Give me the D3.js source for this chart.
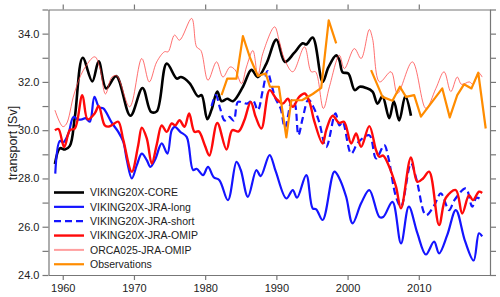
<!DOCTYPE html>
<html>
<head>
<meta charset="utf-8">
<script src="https://cdn.jsdelivr.net/npm/d3@7"></script>
<style>
  body { margin: 0; background: #fff; }
  text { font-family: "Liberation Sans", Arial, sans-serif; fill: #222; }
</style>
</head>
<body>
<svg id="chart" width="500" height="297"></svg>
<script>
// tick values
var xTicks = [1960, 1970, 1980, 1990, 2000, 2010];
var yTicks = [24, 25, 26, 27, 28, 29, 30, 31, 32, 33, 34, 35];

// series, [year, transport in Sv]
var core = [[1958.9,28.6],[1959.6,29.25],[1960.3,29.2],[1961.0,29.35],[1961.7,30.55],[1962.8,33.0],[1964.15,32.02],
  [1965.05,32.85],[1966.1,31.73],[1967.5,32.24],[1969.5,30.6],[1971.2,31.75],[1972.4,30.76],[1973.2,30.78],
  [1974.6,32.76],[1976.0,32.14],[1976.6,32.2],[1977.8,31.95],[1979.0,31.4],[1979.5,31.45],[1980.3,30.45],
  [1980.9,30.85],[1981.7,31.6],[1982.3,31.2],[1983.1,31.3],[1983.9,31.2],[1985.3,31.8],[1986.5,32.5],
  [1987.4,32.2],[1988.6,32.76],[1990.0,33.75],[1991.2,32.83],[1992.5,33.2],[1993.7,33.6],[1994.2,33.55],
  [1995.1,33.84],[1996.5,32.0],[1997.3,32.6],[1998.4,33.1],[1998.85,32.9],[1999.3,32.4],[2000.1,32.35],
  [2001.0,31.66],[2001.7,31.8],[2002.6,31.75],[2003.5,31.6],[2004.2,31.1],[2004.9,31.4],[2005.85,30.5],
  [2006.5,31.2],[2007.25,30.4],[2008.1,31.4],[2008.9,30.6]];

var jraLong = [[1958.95,28.2],[1959.6,29.55],[1960.1,29.5],[1960.8,29.86],[1961.5,30.55],[1962.1,30.45],
  [1962.7,30.45],[1963.2,30.5],[1963.8,30.35],[1964.45,31.38],[1965.1,30.95],[1965.7,30.9],[1966.9,30.3],
  [1967.8,29.93],[1968.5,29.52],[1969.0,28.76],[1969.7,28.0],[1970.4,28.55],[1971.1,29.03],[1971.8,28.76],
  [1972.3,28.48],[1973.0,28.8],[1973.9,29.45],[1974.7,29.03],[1975.3,30.0],[1975.75,30.14],[1976.5,29.93],
  [1977.4,29.72],[1978.3,28.35],[1978.8,28.4],[1979.7,28.14],[1980.4,28.48],[1981.2,28.05],[1982.0,27.93],
  [1983.2,27.1],[1984.4,28.69],[1985.0,28.35],[1986.0,27.24],[1987.2,28.35],[1987.8,28.1],[1989.05,28.97],
  [1989.9,28.3],[1991.4,27.17],[1992.3,27.52],[1992.9,27.2],[1994.2,28.14],[1995.1,26.76],[1995.6,26.72],
  [1996.5,26.28],[1998.15,28.28],[1998.85,28.0],[1999.8,27.24],[2000.7,26.14],[2001.9,26.97],[2003.05,27.52],
  [2004.45,26.41],[2005.0,26.4],[2006.3,27.03],[2007.5,25.31],[2008.6,26.83],[2009.8,25.73],[2011.0,24.85],
  [2012.15,25.38],[2012.85,24.9],[2014.0,25.66],[2015.2,26.69],[2016.5,25.4],[2017.7,24.6],[2018.45,25.73],
  [2018.9,25.6]];

var jraShort = [[1980.9,31.0],[1981.5,31.45],[1982.1,30.9],[1982.75,30.4],[1983.4,30.55],[1984.0,30.4],
  [1984.6,31.17],[1985.2,31.15],[1985.9,31.1],[1986.7,31.24],[1987.4,30.83],[1988.1,31.66],[1988.75,32.45],
  [1989.3,31.9],[1989.9,31.3],[1990.6,30.9],[1991.2,30.1],[1992.2,31.25],[1992.6,31.1],[1993.1,29.8],
  [1993.7,30.5],[1994.5,31.27],[1995.3,30.9],[1996.0,30.35],[1997.0,29.3],[1998.3,30.7],[1998.85,30.2],
  [1999.3,30.35],[2000.5,29.03],[2001.5,29.5],[2003.05,29.79],[2004.0,28.83],[2005.15,29.38],[2005.7,28.9],
  [2006.8,27.24],[2007.5,26.83],[2008.9,28.62],[2009.7,27.93],[2011.0,26.48],[2012.1,26.85],[2013.1,27.38],
  [2014.25,26.69],[2015.0,27.1],[2016.6,27.59],[2017.5,26.83],[2018.1,27.2],[2018.9,27.1]];

var jraOmip = [[1958.9,30.0],[1959.4,30.05],[1960.2,29.3],[1961.0,30.0],[1961.7,30.07],[1962.75,31.45],
  [1963.5,30.45],[1964.5,30.7],[1965.05,31.0],[1965.9,30.2],[1966.5,30.15],[1967.1,30.25],[1967.8,30.35],
  [1968.5,29.6],[1969.7,28.28],[1970.6,29.38],[1971.1,30.1],[1971.8,29.66],[1972.5,28.62],[1973.2,29.4],
  [1973.9,30.2],[1974.6,29.93],[1975.3,30.28],[1975.8,30.2],[1976.4,30.41],[1977.1,30.14],[1977.75,30.69],
  [1978.5,29.93],[1979.1,29.95],[1979.95,29.38],[1980.6,28.95],[1981.7,30.3],[1983.0,29.2],[1983.8,30.0],
  [1984.7,29.95],[1985.5,30.41],[1986.4,31.17],[1987.1,30.55],[1987.9,30.07],[1989.05,31.66],[1990.0,31.3],
  [1990.9,31.1],[1991.6,31.3],[1992.3,30.97],[1993.2,31.38],[1994.0,31.52],[1994.65,31.17],[1995.3,30.4],
  [1996.5,29.45],[1997.0,30.0],[1997.9,30.6],[1998.8,30.3],[1999.5,30.35],[2000.5,29.45],[2001.2,29.86],
  [2001.9,29.31],[2003.05,30.17],[2004.0,29.17],[2004.45,28.9],[2005.0,28.95],[2005.85,28.48],[2006.8,27.66],
  [2007.5,26.76],[2008.9,28.87],[2009.8,27.86],[2010.6,28.0],[2011.45,28.28],[2012.85,26.07],[2013.8,27.2],
  [2015.2,27.52],[2016.1,26.55],[2017.05,27.31],[2017.6,27.1],[2018.45,27.45],[2018.9,27.4]];

var orca = [[1958.9,30.83],[1960.0,30.15],[1960.5,30.25],[1961.6,31.5],[1962.9,32.49],[1964.5,33.04],
  [1965.2,32.6],[1966.0,31.5],[1966.9,32.2],[1967.6,32.25],[1969.4,30.97],[1971.1,32.97],[1972.15,32.0],
  [1973.2,32.83],[1974.3,33.25],[1974.8,33.25],[1975.7,33.94],[1976.4,33.73],[1978.1,34.63],[1978.8,33.45],
  [1979.4,33.3],[1980.4,32.07],[1981.6,32.83],[1982.5,32.2],[1983.5,32.62],[1984.2,32.5],[1985.1,31.93],
  [1985.8,32.62],[1986.7,33.3],[1987.4,32.28],[1988.1,33.18],[1989.75,34.28],[1990.4,33.7],[1991.1,32.97],
  [1992.3,32.42],[1993.95,33.45],[1994.9,32.42],[1995.5,32.42],[1996.6,30.9],[1997.45,31.8],[1998.85,33.1],
  [1999.55,32.55],[2000.95,33.38],[2001.9,32.97],[2003.05,34.17],[2003.5,33.8],[2004.5,32.0],[2006.1,32.42],
  [2007.0,31.52],[2009.1,32.83],[2011.0,30.9],[2012.4,31.73],[2013.55,32.42],[2014.5,31.6],[2015.4,32.2],
  [2016.0,31.9],[2017.1,32.0],[2017.6,31.9],[2018.4,32.38],[2018.9,32.2]];

var obsA = [[1982.3,31.45],[1983.1,32.14],[1984.4,32.14],[1985.3,33.9],[1986.3,33.0],[1987.4,32.25],
  [1988.5,32.35],[1989.1,31.8],[1990.35,31.8],[1991.4,29.7],[1992.1,31.24],[1993.6,31.24],[1995.1,31.5],
  [1996.3,31.75],[1997.35,34.55],[1998.4,33.6]];
var obsB = [[2003.3,32.49],[2004.9,31.38],[2006.3,31.22],[2007.35,31.8],[2008.2,31.38],[2009.35,31.45],
  [2010.3,30.56],[2013.3,31.73],[2014.35,30.53],[2015.4,31.45],[2016.35,31.9],[2017.4,31.73],[2018.35,32.38],
  [2019.4,30.07]];

var seriesNames = ["VIKING20X-CORE", "VIKING20X-JRA-long", "VIKING20X-JRA-short",
                   "VIKING20X-JRA-OMIP", "ORCA025-JRA-OMIP", "Observations"];

var svg = d3.select("#chart");

var x = d3.scaleLinear().domain([1958, 2020]).range([48.5, 490]);
var y = d3.scaleLinear().domain([24, 35]).range([275, 9.5]);

var axisColor = "#777";

// axes
var gBottom = svg.append("g").attr("transform", "translate(0,275)")
  .call(d3.axisBottom(x).tickValues(xTicks).tickFormat(d3.format("d")).tickSize(5).tickSizeOuter(0).tickPadding(4));
var gTop = svg.append("g").attr("transform", "translate(0,9.5)")
  .call(d3.axisTop(x).tickValues(xTicks).tickFormat("").tickSize(5).tickSizeOuter(0));
var gLeft = svg.append("g").attr("transform", "translate(48.5,0)")
  .call(d3.axisLeft(y).tickValues(yTicks)
    .tickFormat(function(d) { return d % 2 === 0 ? d3.format(".1f")(d) : ""; })
    .tickSize(6).tickSizeOuter(0).tickPadding(3));
var gRight = svg.append("g").attr("transform", "translate(490,0)")
  .call(d3.axisRight(y).tickValues(yTicks).tickFormat("").tickSize(6).tickSizeOuter(0));

[gBottom, gTop, gLeft, gRight].forEach(function(g) {
  g.selectAll("path, line").attr("stroke", axisColor).attr("stroke-width", 1.2);
  g.selectAll("text").style("font-size", "11px").attr("fill", "#222");
});

svg.append("text")
  .attr("transform", "translate(13,143) rotate(-90)")
  .attr("text-anchor", "middle")
  .attr("dy", "0.35em")
  .style("font-size", "12.5px")
  .text("transport [Sv]");

// lines
var smooth = d3.line().x(function(d) { return x(d[0]); }).y(function(d) { return y(d[1]); })
  .curve(d3.curveCatmullRom.alpha(0.5));
var straight = d3.line().x(function(d) { return x(d[0]); }).y(function(d) { return y(d[1]); });

var styles = [
  {data: [core], gen: smooth, color: "#000", width: 2.6, dash: null, op: 1},
  {data: [jraLong], gen: smooth, color: "#1414ff", width: 2.2, dash: null, op: 1},
  {data: [jraShort], gen: smooth, color: "#1414ff", width: 2.2, dash: "7,4", op: 1},
  {data: [jraOmip], gen: smooth, color: "#ff0a0a", width: 2.4, dash: null, op: 1},
  {data: [orca], gen: smooth, color: "#ff4040", width: 1, dash: null, op: 0.75},
  {data: [obsA, obsB], gen: straight, color: "#ff8c00", width: 2.2, dash: null, op: 1}
];

var plot = svg.append("g");
styles.forEach(function(s) {
  s.data.forEach(function(seg) {
    plot.append("path")
      .attr("d", s.gen(seg))
      .attr("fill", "none")
      .attr("stroke", s.color)
      .attr("stroke-width", s.width)
      .attr("stroke-opacity", s.op)
      .attr("stroke-dasharray", s.dash)
      .attr("stroke-linejoin", "round");
  });
});

// legend
var legend = svg.append("g").attr("transform", "translate(54,192.5)");
styles.forEach(function(s, i) {
  var row = legend.append("g").attr("transform", "translate(0," + (i * 14.35) + ")");
  row.append("line")
    .attr("x1", 0).attr("x2", 30)
    .attr("stroke", s.color)
    .attr("stroke-width", i === 4 ? 2 : s.width)
    .attr("stroke-opacity", i === 4 ? 0.5 : 1)
    .attr("stroke-dasharray", s.dash);
  row.append("text")
    .attr("x", 36).attr("dy", "0.35em")
    .style("font-size", "10.5px")
    .text(seriesNames[i]);
});
</script>
</body>
</html>
